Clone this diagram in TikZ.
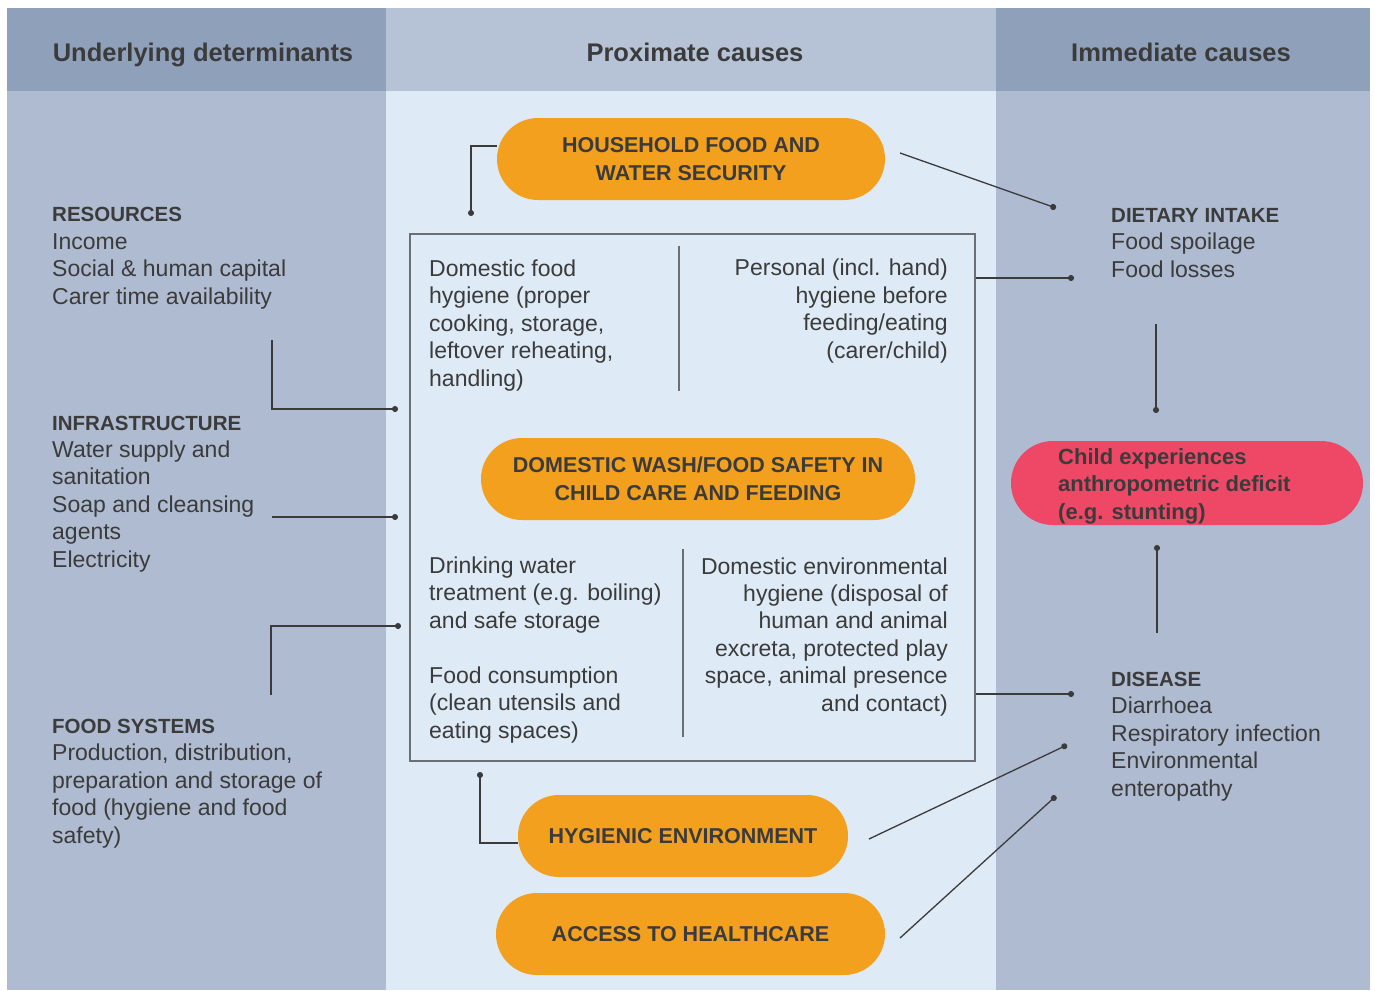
\documentclass[tikz,border=0pt]{standalone}
\usepackage{fontspec}
\setmainfont{Liberation Sans}
\usetikzlibrary{arrows.meta}
\definecolor{hdrdark}{HTML}{8FA0BA}
\definecolor{bodydark}{HTML}{AEBBD0}
\definecolor{hdrmid}{HTML}{B6C3D7}
\definecolor{bodymid}{HTML}{DEEAF5}
\definecolor{pillor}{HTML}{F2A01E}
\definecolor{pillred}{HTML}{EE4866}
\definecolor{ink}{HTML}{3B3B3B}
\definecolor{boxline}{HTML}{6B6E73}
\tikzset{
  hdr/.style={text=ink, font=\fontsize{25.5}{30}\selectfont\bfseries, inner sep=0pt, anchor=base},
  body/.style={text=ink, font=\fontsize{23}{27.4}\selectfont, inner sep=0pt},
  bodyl/.style={body, align=left, anchor=base west},
  bodyr/.style={body, align=right, anchor=base east},
  pill/.style={fill=pillor, rounded corners=41pt, text=ink, align=center,
    font=\fontsize{21.5}{27.5}\selectfont\bfseries, inner sep=0pt, minimum height=82pt},
  redpill/.style={fill=pillred, rounded corners=42pt, inner sep=0pt, minimum height=84pt},
  conn/.style={draw=ink, line width=1.3pt},
  dot/.style={conn, -{Circle[length=6pt,width=6pt]}},
  divider/.style={draw=boxline, line width=1.3pt},
}
\newcommand{\capttl}[1]{{\fontsize{20.5}{27.4}\selectfont\bfseries #1}}
\begin{document}
\begin{tikzpicture}[x=1pt,y=-1pt]
\useasboundingbox (0,0) rectangle (1375,990);
\fill[white] (0,0) rectangle (1375,990);
% columns
\fill[bodydark] (7,8) rectangle (386,990);
\fill[hdrdark] (7,8) rectangle (386,91);
\fill[bodymid] (386,8) rectangle (996,990);
\fill[hdrmid] (386,8) rectangle (996,91);
\fill[bodydark] (996,8) rectangle (1370,990);
\fill[hdrdark] (996,8) rectangle (1370,91);
% headers
\node[hdr] (h1) at (203,61) {Underlying determinants};
\node[hdr] (h2) at (695,61) {Proximate causes};
\node[hdr] (h3) at (1181,61) {Immediate causes};
% left column (anchor = baseline of last line)
\node[bodyl] (res) at (52,304) {\capttl{RESOURCES}\\Income\\Social \& human capital\\Carer time availability};
\node[bodyl] (infra) at (52,567) {\capttl{INFRASTRUCTURE}\\Water supply and\\sanitation\\Soap and cleansing\\agents\\Electricity};
\node[bodyl] (food) at (52,843) {\capttl{FOOD SYSTEMS}\\Production, distribution,\\preparation and storage of\\food (hygiene and food\\safety)};
% right column
\node[bodyl] (diet) at (1111,277) {\capttl{DIETARY INTAKE}\\Food spoilage\\Food losses};
\node[bodyl] (dis) at (1111,796) {\capttl{DISEASE}\\Diarrhoea\\Respiratory infection\\Environmental\\enteropathy};
% big box
\node[draw=boxline, line width=1.5pt, minimum width=565pt, minimum height=527pt, inner sep=0pt] (box) at (692.5,497.5) {};
\draw[divider] (679,246) -- (679,391);
\draw[divider] (683,549) -- (683,737);
\node[bodyl] (tl) at (429,386) {Domestic food\\hygiene (proper\\cooking, storage,\\leftover reheating,\\handling)};
\node[bodyr] (tr) at (948,358) {Personal (incl. hand)\\hygiene before\hspace{5pt}\\feeding/eating\\(carer/child)};
\node[bodyl] (bl1) at (429,628) {Drinking water\\treatment (e.g. boiling)\\and safe storage};
\node[bodyl] (bl2) at (429,738) {Food consumption\\(clean utensils and\\eating spaces)};
\node[bodyr] (br) at (948,711) {Domestic environmental\\hygiene (disposal of\\human and animal\\excreta, protected play\\space, animal presence\\and contact)};
% pills
\node[pill, minimum width=388pt] (hfws) at (691,159) {HOUSEHOLD FOOD AND\\WATER SECURITY};
\node[pill, minimum width=434pt] (wash) at (698,479) {DOMESTIC WASH/FOOD SAFETY IN\\CHILD CARE AND FEEDING};
\node[pill, minimum width=330pt] (hyg) at (683,836) {HYGIENIC ENVIRONMENT};
\node[pill, minimum width=389pt] (acc) at (690.5,934) {ACCESS TO HEALTHCARE};
\node[redpill, minimum width=352pt] (stunt) at (1187,483) {};
\node[text=ink, font=\fontsize{22}{27.5}\selectfont\bfseries, align=left, anchor=base west, inner sep=0pt] (stunttxt) at (1058,519) {Child experiences\\anthropometric deficit\\(e.g. stunting)};
% free ends
\coordinate (c1a) at (272,340);
\coordinate (c1b) at (398,409);
\coordinate (c2a) at (272,517);
\coordinate (c2b) at (398,517);
\coordinate (c3a) at (271,695);
\coordinate (c3b) at (401,626);
\coordinate (c4) at (471,216);
\coordinate (c5a) at (900,153);
\coordinate (c5b) at (1056,208);
\coordinate (c6) at (1074,278);
\coordinate (c7a) at (1156,324);
\coordinate (c7b) at (1156,413);
\coordinate (c8a) at (1157,633);
\coordinate (c8b) at (1157,545);
\coordinate (c9) at (1074,694);
\coordinate (c10a) at (869,839);
\coordinate (c10b) at (1067,745);
\coordinate (c11a) at (900,938);
\coordinate (c11b) at (1056,796);
\coordinate (c12) at (480,772);
% connectors
\draw[dot] (c1a) |- (c1b);
\draw[dot] (c2a) -- (c2b);
\draw[dot] (c3a) |- (c3b);
\draw[dot] ([yshift=13pt]hfws.west) -| (c4);
\draw[dot] (c5a) -- (c5b);
\draw[dot] (box.east |- c6) -- (c6);
\draw[dot] (c7a) -- (c7b);
\draw[dot] (c8a) -- (c8b);
\draw[dot] (box.east |- c9) -- (c9);
\draw[dot] (c10a) -- (c10b);
\draw[dot] (c11a) -- (c11b);
\draw[dot] ([yshift=-7pt]hyg.west) -| (c12);
\end{tikzpicture}
\end{document}
